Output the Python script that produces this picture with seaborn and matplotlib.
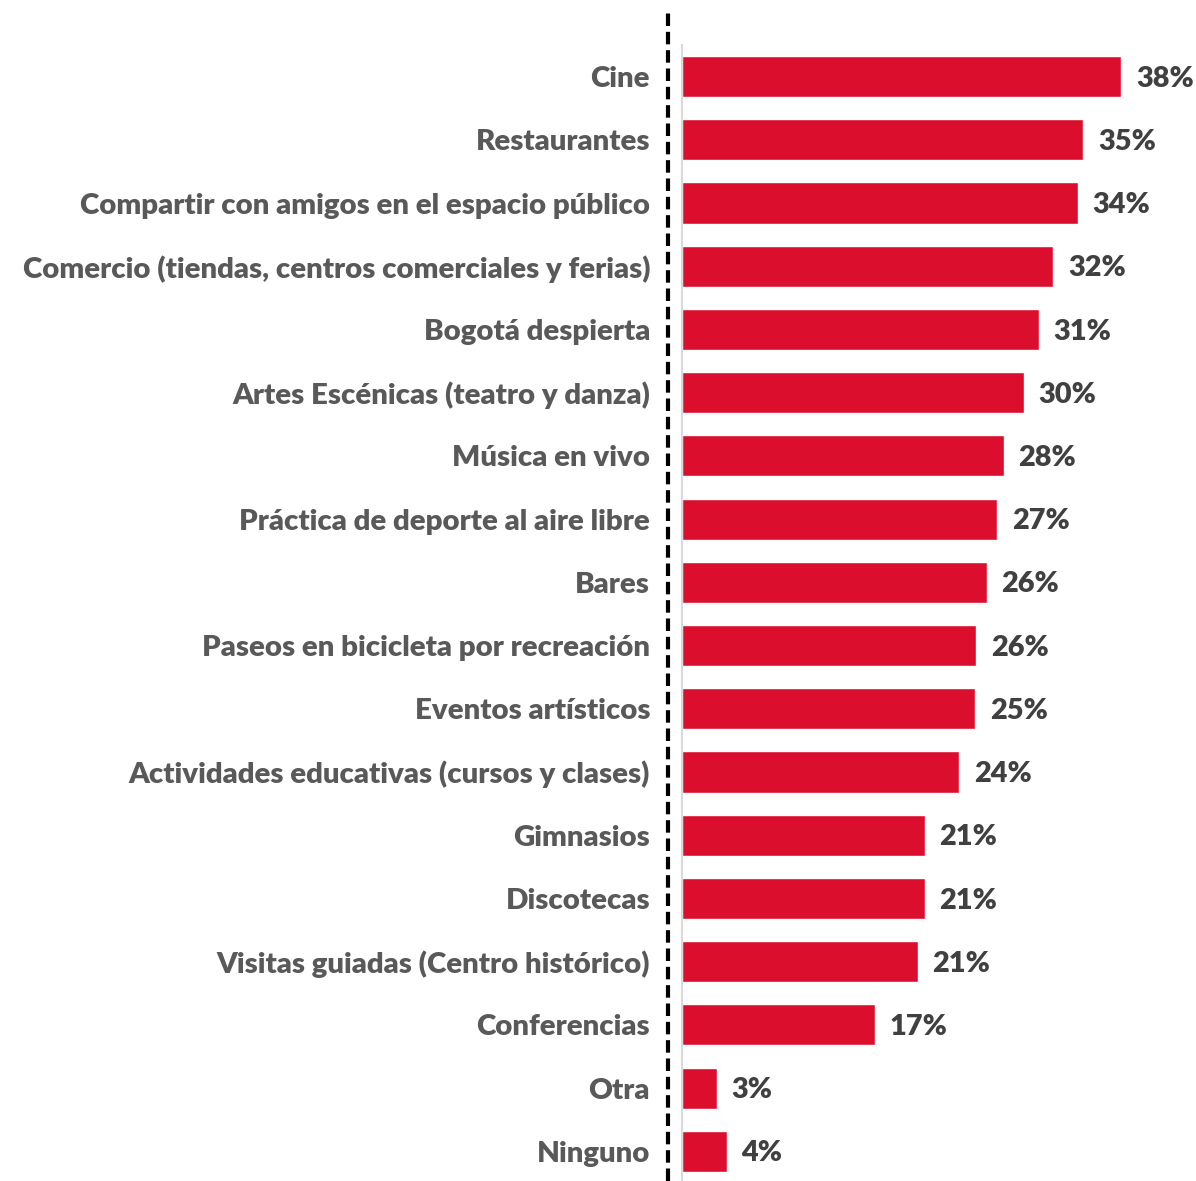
import matplotlib
matplotlib.use("Agg")
import matplotlib.pyplot as plt
from matplotlib.lines import Line2D
import seaborn as sns
import pandas as pd

categories = [
    "Cine", "Restaurantes", "Compartir con amigos en el espacio público",
    "Comercio (tiendas, centros comerciales y ferias)", "Bogotá despierta",
    "Artes Escénicas (teatro y danza)", "Música en vivo",
    "Práctica de deporte al aire libre", "Bares",
    "Paseos en bicicleta por recreación", "Eventos artísticos",
    "Actividades educativas (cursos y clases)", "Gimnasios", "Discotecas",
    "Visitas guiadas (Centro histórico)", "Conferencias", "Otra", "Ninguno",
]
values = [38.2, 34.9, 34.4, 32.3, 31.0, 29.7, 28.0, 27.4, 26.5,
          25.6, 25.5, 24.1, 21.1, 21.1, 20.5, 16.8, 3.0, 3.9]
value_labels = ["38%", "35%", "34%", "32%", "31%", "30%", "28%", "27%", "26%",
                "26%", "25%", "24%", "21%", "21%", "21%", "17%", "3%", "4%"]

df = pd.DataFrame({"cat": categories, "val": values})

sns.set_style("white")
plt.rcParams["font.family"] = ["Lato", "DejaVu Sans"]

W, H = 1196, 1181
fig = plt.figure(figsize=(W / 100, H / 100), dpi=100)
ax = fig.add_axes([682 / W, 0, (1190 - 682) / W, (1181 - 45) / H])

sns.barplot(data=df, x="val", y="cat", color="#DB0F2D", width=0.65,
            saturation=1, ax=ax, orient="h")

ax.set_xlim(0, (1190 - 682) / 11.5)
ax.set_ylim(17.47, -0.5)
ax.set_xlabel("")
ax.set_ylabel("")
ax.set_xticks([])
for s in ["top", "right", "bottom"]:
    ax.spines[s].set_visible(False)
ax.spines["left"].set_color("#D9D9D9")
ax.spines["left"].set_linewidth(1.5)

ax.tick_params(axis="y", length=0, pad=23)
for t in ax.get_yticklabels():
    t.set_fontsize(21.2)
    t.set_fontweight("heavy")
    t.set_color("#595959")

for i, (v, lab) in enumerate(zip(values, value_labels)):
    ax.annotate(lab, (v, i), xytext=(10.5, -1.5), textcoords="offset points",
                va="center", ha="left", fontsize=20.8, fontweight="heavy",
                color="#404040")

fig.add_artist(Line2D([668 / W, 668 / W], [0, 1 - 10 / H],
                      transform=fig.transFigure, color="black", lw=3,
                      ls=(0, (3, 1.4))))

fig.savefig("out.png", dpi=100)
